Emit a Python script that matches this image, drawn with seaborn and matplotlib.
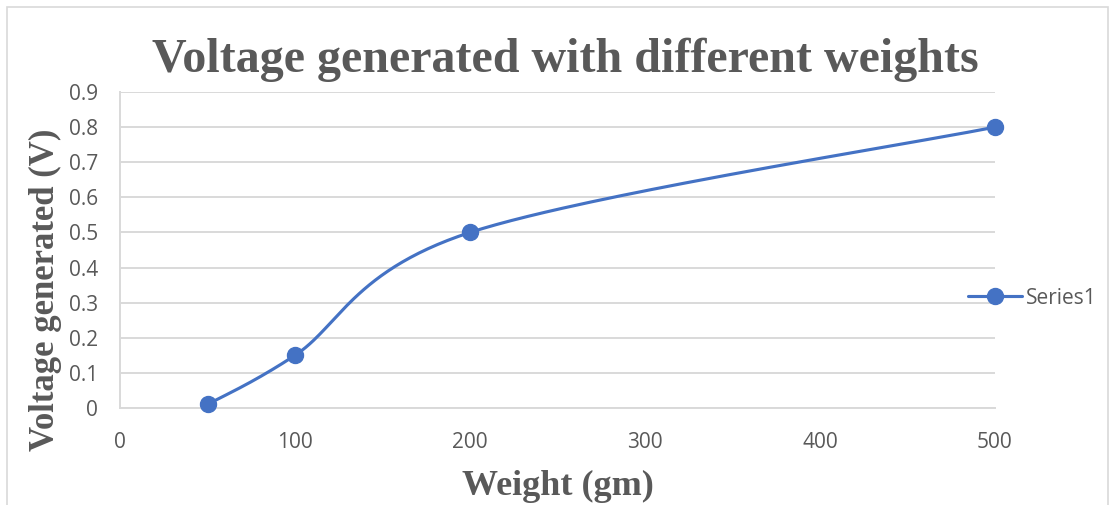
import numpy as np
import matplotlib
matplotlib.use("Agg")
import matplotlib.pyplot as plt
from matplotlib.lines import Line2D
from matplotlib.patches import Rectangle
import seaborn as sns

# Data
weights = [50, 100, 200, 500]
voltages = [0.01, 0.15, 0.5, 0.8]
x_ticks = [0, 100, 200, 300, 400, 500]
y_ticks = [0, 0.1, 0.2, 0.3, 0.4, 0.5, 0.6, 0.7, 0.8, 0.9]
series_name = "Series1"
title = "Voltage generated with different weights"
xlabel = "Weight (gm)"
ylabel = "Voltage generated (V)"

sns.set_theme(style="white")
plt.rcParams['font.family'] = ['DejaVu Sans']

BLUE = "#4472C4"
GRAY = "#595959"
GRID = "#d9d9d9"
SANS = ['Open Sans', 'DejaVu Sans']

fig = plt.figure(figsize=(11.14, 5.05), dpi=100)
ax = fig.add_axes([120/1114, 1-408/505, (995-120)/1114, (408-92)/505])


def smooth(xs, ys, n=60):
    # Excel-like smoothed line: cubic Bezier with Catmull-Rom style control points
    P = np.column_stack([xs, ys]).astype(float)
    P = np.vstack([P[0], P, P[-1]])
    out = []
    for i in range(1, len(P) - 2):
        p0, p1, p2, p3 = P[i-1], P[i], P[i+1], P[i+2]
        c1 = p1 + (p2 - p0) / 6.0
        c2 = p2 - (p3 - p1) / 6.0
        t = np.linspace(0, 1, n)[:, None]
        seg = (1-t)**3*p1 + 3*(1-t)**2*t*c1 + 3*(1-t)*t**2*c2 + t**3*p2
        out.append(seg if i == 1 else seg[1:])
    s = np.vstack(out)
    return s[:, 0], s[:, 1]


LW = 2.25
MS = 11.5
sx, sy = smooth(weights, voltages)
sns.lineplot(x=sx, y=sy, ax=ax, color=BLUE, linewidth=LW, sort=False,
             estimator=None, legend=False, zorder=3)
ax.plot(weights, voltages, linestyle='none', marker='o', markersize=MS,
        color=BLUE, zorder=4, clip_on=False)

ax.set_xlim(0, 500)
ax.set_ylim(0, 0.9)
ax.set_xticks(x_ticks)
ax.set_yticks(y_ticks)
ax.set_xticklabels([str(v) for v in x_ticks])
ax.set_yticklabels(["0" if v == 0 else f"{v:.1f}" for v in y_ticks])
ax.tick_params(axis='both', length=0, labelsize=15, colors=GRAY)
ax.tick_params(axis='x', pad=17)
ax.tick_params(axis='y', pad=16)
for lbl in ax.get_xticklabels() + ax.get_yticklabels():
    lbl.set_fontfamily(SANS)

ax.grid(axis='y', color=GRID, linewidth=1.4)
ax.grid(axis='x', visible=False)
ax.set_axisbelow(True)
for s in ['top', 'right']:
    ax.spines[s].set_visible(False)
ax.spines['left'].set_color(GRID)
ax.spines['left'].set_linewidth(1.4)
ax.spines['bottom'].set_color(GRID)
ax.spines['bottom'].set_linewidth(1.4)

ax.set_xlabel(xlabel, fontsize=26, fontweight='bold', color=GRAY,
              family=['Liberation Serif'])
ax.xaxis.label.set_va('center')
ax.xaxis.set_label_coords((558-120)/875, (408-486)/316)
ax.set_ylabel(ylabel, fontsize=25, fontweight='bold', color=GRAY,
              family=['Liberation Serif'])
ax.yaxis.label.set_va('center')
ax.yaxis.set_label_coords((45-120)/875, (408-290)/316)
fig.text(565/1114, 1-60/505, title, fontsize=34.6, fontweight='bold', color=GRAY,
         family=['Liberation Serif'], ha='center', va='center')

handle = Line2D([], [], color=BLUE, linewidth=LW, marker='o', markersize=MS)
leg = fig.legend([handle], [series_name], loc='center left',
                 bbox_to_anchor=(968/1114, 1-298/505), frameon=False,
                 borderaxespad=0, borderpad=0,
                 handlelength=2.6, handletextpad=0.2,
                 prop={'family': SANS, 'size': 15})
for t in leg.get_texts():
    t.set_color(GRAY)

fig.patches.append(Rectangle((7/1114, -0.1), (1108-7)/1114, 1.1 - 7/505,
                             transform=fig.transFigure, fill=False,
                             edgecolor=GRID, linewidth=1.2))

fig.savefig("out.png", dpi=100, facecolor='white')
